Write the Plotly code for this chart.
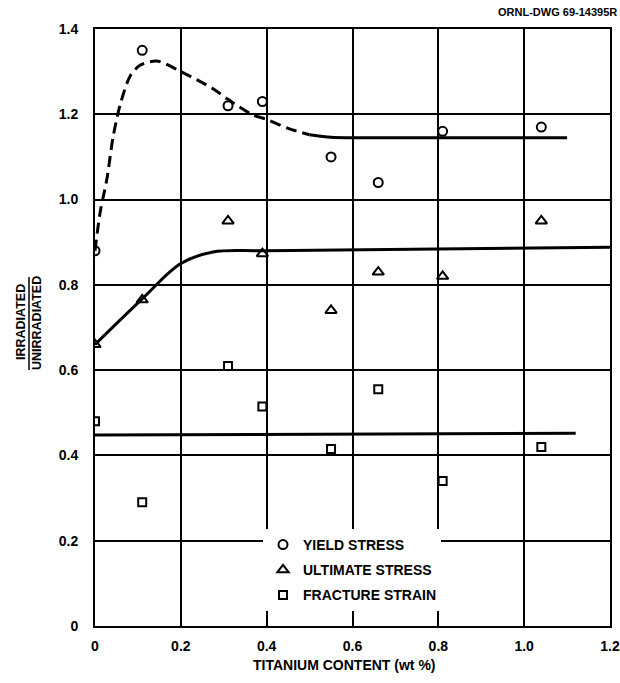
import plotly.graph_objects as go

# Measured ratios (irradiated / unirradiated) versus titanium content
ti_content = [0.0, 0.11, 0.31, 0.39, 0.55, 0.66, 0.81, 1.04]
yield_stress = [0.88, 1.35, 1.22, 1.23, 1.10, 1.04, 1.16, 1.17]
ultimate_stress = [0.66, 0.765, 0.95, 0.873, 0.74, 0.83, 0.82, 0.95]
fracture_strain = [0.48, 0.29, 0.61, 0.515, 0.415, 0.555, 0.34, 0.42]

# Faired trend curves
yield_dash_x = [0.0, 0.012, 0.028, 0.042, 0.058, 0.082, 0.105, 0.144, 0.2, 0.275, 0.31, 0.365, 0.4, 0.45, 0.5]
yield_dash_y = [0.88, 0.97, 1.05, 1.146, 1.22, 1.29, 1.315, 1.325, 1.30, 1.26, 1.235, 1.20, 1.188, 1.167, 1.152]
yield_solid_x = [0.5, 0.55, 0.6, 1.10]
yield_solid_y = [1.152, 1.146, 1.145, 1.145]
ult_curve_x = [0.0, 0.11, 0.2, 0.275, 0.4, 1.2]
ult_curve_y = [0.66, 0.767, 0.850, 0.877, 0.880, 0.888]
frac_curve_x = [0.0, 1.12]
frac_curve_y = [0.448, 0.452]

x_ticks = [0, 0.2, 0.4, 0.6, 0.8, 1.0, 1.2]
x_ticktext = ["0", "0.2", "0.4", "0.6", "0.8", "1.0", "1.2"]
y_ticks = [0, 0.2, 0.4, 0.6, 0.8, 1.0, 1.2, 1.4]
y_ticktext = ["0", "0.2", "0.4", "0.6", "0.8", "1.0", "1.2", "1.4"]

FONT = "Liberation Sans"
INK = "black"

fig = go.Figure()

# curves (no legend entries)
fig.add_trace(go.Scatter(x=yield_dash_x, y=yield_dash_y, mode="lines",
                         line=dict(color=INK, width=3, dash="11px,6px", shape="spline", smoothing=0.8),
                         showlegend=False, hoverinfo="skip"))
fig.add_trace(go.Scatter(x=yield_solid_x, y=yield_solid_y, mode="lines",
                         line=dict(color=INK, width=3, shape="spline", smoothing=0.8),
                         showlegend=False, hoverinfo="skip"))
fig.add_trace(go.Scatter(x=ult_curve_x, y=ult_curve_y, mode="lines",
                         line=dict(color=INK, width=3, shape="spline", smoothing=1.0),
                         showlegend=False, hoverinfo="skip"))
fig.add_trace(go.Scatter(x=frac_curve_x, y=frac_curve_y, mode="lines",
                         line=dict(color=INK, width=3),
                         showlegend=False, hoverinfo="skip"))

# data points
fig.add_trace(go.Scatter(x=ti_content, y=yield_stress, mode="markers", name="YIELD STRESS",
                         legendgroup="a",
                         marker=dict(symbol="circle-open", size=9, color=INK, line=dict(width=2, color=INK))))
fig.add_trace(go.Scatter(x=ti_content, y=ultimate_stress, mode="markers", name="ULTIMATE STRESS",
                         legendgroup="b",
                         marker=dict(symbol="triangle-up-open", size=10, color=INK, line=dict(width=2, color=INK))))
fig.add_trace(go.Scatter(x=ti_content, y=fracture_strain, mode="markers", name="FRACTURE STRAIN",
                         legendgroup="c",
                         marker=dict(symbol="square-open", size=8, color=INK, line=dict(width=2, color=INK))))

axis_common = dict(showgrid=True, gridcolor=INK, gridwidth=1.5, zeroline=False,
                   showline=True, linecolor=INK, linewidth=2, mirror=True, automargin=False,
                   ticks="", tickfont=dict(family=FONT, size=14, color=INK, weight="bold"))

fig.update_xaxes(range=[0, 1.2], tickvals=x_ticks, ticktext=x_ticktext, ticklabelstandoff=6, **axis_common)
fig.update_yaxes(range=[0, 1.4], tickvals=y_ticks, ticktext=y_ticktext, ticklabelstandoff=12, **axis_common)

# plot area: x 95..610 px, y 29..626 px
L, R, T, B = 95, 610, 29, 626
W, H = R - L, B - T


def px(xp):
    return (xp - L) / W


def py(yp):
    return (B - yp) / H


def label(text, x, y, size, angle=0, xanchor="center"):
    fig.add_annotation(text=text, xref="paper", yref="paper", x=px(x), y=py(y),
                       xanchor=xanchor, yanchor="middle", textangle=angle, showarrow=False,
                       font=dict(family=FONT, size=size, color=INK, weight="bold"))


label("TITANIUM CONTENT (wt %)", 344, 665, 14)
label("ORNL-DWG 69-14395R", 619, 12, 11, xanchor="right")
# ratio label on the y axis
label("IRRADIATED", 21, 322, 12.5, angle=-90)
label("UNIRRADIATED", 37, 323, 12.5, angle=-90)
fig.add_shape(type="line", xref="paper", yref="paper",
              x0=px(29), x1=px(29), y0=py(277), y1=py(370),
              line=dict(color=INK, width=1.5))

fig.update_layout(
    width=620, height=683,
    margin=dict(l=L, r=620 - R, t=T, b=683 - B),
    paper_bgcolor="white", plot_bgcolor="white",
    legend=dict(x=px(263), y=py(529), xanchor="left", yanchor="top",
                bgcolor="white", borderwidth=0, tracegroupgap=4,
                traceorder="grouped",
                font=dict(family=FONT, size=14, color=INK, weight="bold")),
)

fig.write_html("out.html")
